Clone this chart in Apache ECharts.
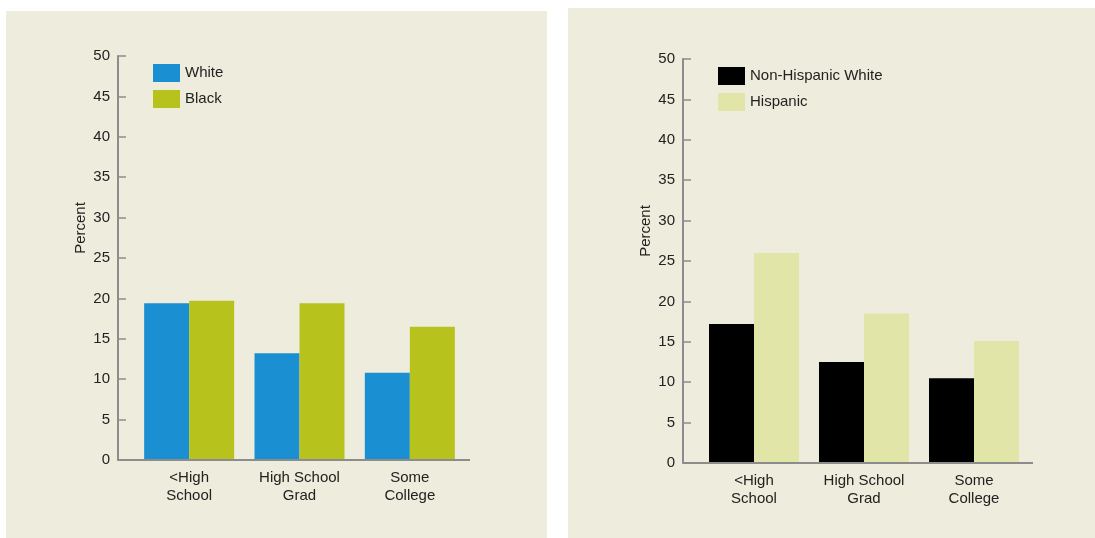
<!DOCTYPE html>
<html>
<head>
<meta charset="utf-8">
<script src="https://cdn.jsdelivr.net/npm/echarts@6/dist/echarts.min.js"></script>
<style>
  html, body { margin: 0; padding: 0; background: #ffffff; }
  #main { width: 1095px; height: 538px; }
</style>
</head>
<body>
<div id="main"></div>
<script>
// data
var categories = ['<High\nSchool', 'High School\nGrad', 'Some\nCollege'];
var yTicks = [0, 5, 10, 15, 20, 25, 30, 35, 40, 45, 50];
var whiteVals = [19.4, 13.2, 10.8];
var blackVals = [19.7, 19.4, 16.5];
var nonHispWhiteVals = [17.2, 12.5, 10.5];
var hispanicVals = [26.0, 18.5, 15.1];

var font = 'Liberation Sans, Arial, sans-serif';
var axisGray = '#8c8c8c';

// panel / grid geometry
var g0 = {left: 134, top: 56, width: 331, height: 404, axisX: 118};
var g1 = {left: 699, top: 59, width: 330, height: 404, axisX: 683};

function yAxisFor(idx, g) {
    return {
        type: 'value',
        gridIndex: idx,
        min: yTicks[0],
        max: yTicks[yTicks.length - 1],
        interval: 5,
        offset: g.left - g.axisX,
        name: 'Percent',
        nameLocation: 'middle',
        nameGap: 30,
        nameRotate: 90,
        nameTextStyle: {fontFamily: font, fontSize: 15, color: '#222', padding: [0, 0, 0, 60]},
        axisLine: {show: true, lineStyle: {color: axisGray, width: 2}},
        axisTick: {show: true, inside: true, length: 8, lineStyle: {color: axisGray, width: 1.5}},
        axisLabel: {fontFamily: font, fontSize: 15, color: '#222', margin: 8},
        splitLine: {show: false}
    };
}

function xAxisFor(idx) {
    return {
        type: 'category',
        gridIndex: idx,
        data: categories,
        axisLine: {show: false},
        axisTick: {show: false},
        axisLabel: {fontFamily: font, fontSize: 15, color: '#222', margin: 9, lineHeight: 18, interval: 0}
    };
}

function bar(name, idx, vals, color) {
    return {
        name: name,
        type: 'bar',
        xAxisIndex: idx,
        yAxisIndex: idx,
        data: vals,
        barWidth: 45,
        barGap: '0%',
        itemStyle: {color: color},
        emphasis: {disabled: true}
    };
}

function baseLine(g, extra) {
    var y = g.top + g.height;
    return {
        type: 'line',
        shape: {x1: g.axisX, y1: y, x2: g.left + g.width + extra, y2: y},
        style: {stroke: axisGray, lineWidth: 2},
        z: 10
    };
}

var myChart = echarts.init(document.getElementById('main'), null, {renderer: 'canvas'});
var option = {
    animation: false,
    backgroundColor: '#ffffff',
    graphic: [
        {type: 'rect', shape: {x: 6, y: 11, width: 541, height: 527}, style: {fill: '#eeecdc'}, z: -10},
        {type: 'rect', shape: {x: 568, y: 8, width: 527, height: 530}, style: {fill: '#eeecdc'}, z: -10},
        baseLine(g0, 5),
        baseLine(g1, 4)
    ],
    legend: [
        {
            orient: 'vertical', left: 148, top: 59,
            itemWidth: 27, itemHeight: 18, itemGap: 8,
            icon: 'rect',
            textStyle: {fontFamily: font, fontSize: 15, color: '#222'},
            data: ['White', 'Black']
        },
        {
            orient: 'vertical', left: 713, top: 62,
            itemWidth: 27, itemHeight: 18, itemGap: 8,
            icon: 'rect',
            textStyle: {fontFamily: font, fontSize: 15, color: '#222'},
            data: ['Non-Hispanic White', 'Hispanic']
        }
    ],
    grid: [
        {left: g0.left, top: g0.top, width: g0.width, height: g0.height},
        {left: g1.left, top: g1.top, width: g1.width, height: g1.height}
    ],
    xAxis: [xAxisFor(0), xAxisFor(1)],
    yAxis: [yAxisFor(0, g0), yAxisFor(1, g1)],
    series: [
        bar('White', 0, whiteVals, '#1a8fd2'),
        bar('Black', 0, blackVals, '#b7c21c'),
        bar('Non-Hispanic White', 1, nonHispWhiteVals, '#000000'),
        bar('Hispanic', 1, hispanicVals, '#e2e5a8')
    ]
};
myChart.setOption(option);
</script>
</body>
</html>
